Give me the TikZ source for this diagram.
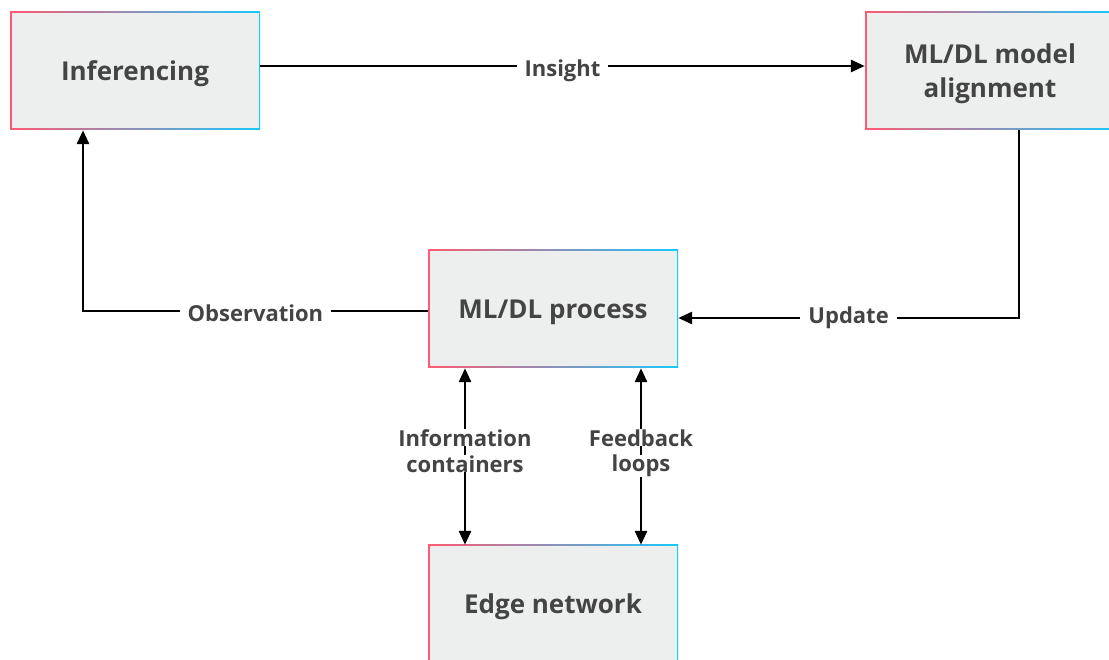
\documentclass[tikz,border=0pt]{standalone}
\usepackage{fontspec}
\setmainfont{Open Sans}
\usetikzlibrary{arrows.meta}
\definecolor{pinkc}{HTML}{FF5A72}
\definecolor{cyanc}{HTML}{18C8FF}
\definecolor{boxfill}{HTML}{EDEEEE}
\definecolor{textc}{HTML}{444444}
\tikzset{
  gbox/.style={rectangle, inner sep=0pt, minimum width=250pt, minimum height=118pt,
    left color=pinkc, right color=cyanc, align=center, text=textc, text depth=0pt,
    font=\fontsize{26}{34}\selectfont\bfseries,
    path picture={\fill[boxfill] ([shift={(1.5pt,1.5pt)}]path picture bounding box.south west)
      rectangle ([shift={(-1.5pt,-1.5pt)}]path picture bounding box.north east);}},
  conn/.style={line width=2.8pt, black},
  arr/.style={conn, -{Triangle[length=14pt,width=12pt]}},
  darr/.style={conn, {Triangle[length=14pt,width=12pt]}-{Triangle[length=14pt,width=12pt]}},
  lbl/.style={fill=white, text=textc, inner xsep=8pt, inner ysep=0pt, text depth=0pt, yshift=-2pt,
    font=\fontsize{22}{28}\selectfont\bfseries},
  lbl2/.style={fill=white, text=textc, inner xsep=3pt, inner ysep=0pt,
    font=\fontsize{22}{28}\selectfont\bfseries}
}
\begin{document}
\begin{tikzpicture}[x=1pt,y=1pt]
\useasboundingbox (0,0) rectangle (1109,659);
\clip (0,0) rectangle (1109,659);
\node[gbox] (inf) at (135,588) {Inferencing};
\node[gbox] (align) at (990,588) {ML/DL model\\alignment};
\node[gbox] (proc) at (553,350) {ML/DL process};
\node[gbox] (edge) at (553,55) {Edge network};
\draw[arr] ([yshift=5pt]inf.east) -- node[lbl] {Insight} ([yshift=5pt]align.west);
\draw[arr] ([xshift=29pt]align.south) |- node[lbl, pos=0.75, yshift=5pt] {Update} ([yshift=-9pt]proc.east);
\draw[arr] ([yshift=-2pt]proc.west) -| node[lbl, pos=0.25] {Observation} ([xshift=-52pt]inf.south);
\draw[darr] ([xshift=-88pt]proc.south) -- node[lbl2, pos=0.395] {Information} node[lbl2, pos=0.542] {containers} ([xshift=-88pt]edge.north);
\draw[darr] ([xshift=88pt]proc.south) -- node[lbl2, pos=0.395] {Feedback} node[lbl2, pos=0.552] {loops} ([xshift=88pt]edge.north);
\end{tikzpicture}
\end{document}
